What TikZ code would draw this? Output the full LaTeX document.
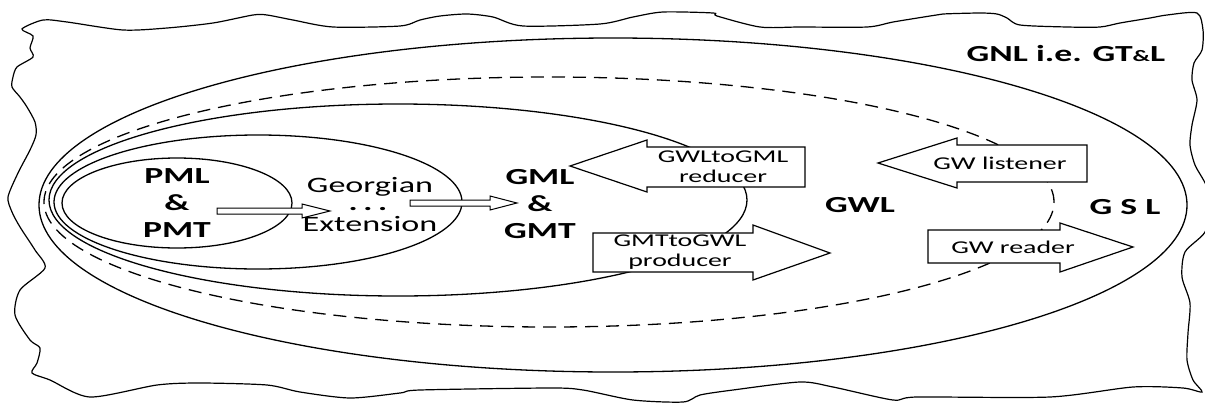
\documentclass[tikz,border=0pt]{standalone}
\usepackage{fontspec}
\usepackage{graphicx}
\setmainfont{Carlito}
\newcommand\sx[1]{\scalebox{1.55}[1]{#1}}
\tikzset{
  outline/.style={line width=1.2pt},
  ring/.style={line width=1.3pt},
  ringdash/.style={line width=1.3pt, dash pattern=on 13pt off 8pt},
  blockarrow/.style={line width=1.2pt, fill=white, line join=miter},
  thinarrow/.style={line width=1pt, fill=white, line join=miter},
  biglabel/.style={font=\bfseries\fontsize{23}{27}\selectfont, align=center, inner sep=0pt},
  boxlabel/.style={font=\fontsize{18}{20}\selectfont, align=center, inner sep=0pt},
  extlabel/.style={font=\fontsize{22}{24}\selectfont, inner sep=0pt}
}
\begin{document}
\begin{tikzpicture}[x=1pt,y=-1pt]
\useasboundingbox (0,0) rectangle (1205,405);
% wavy outer border
\draw[outline] plot[smooth cycle, tension=0.45] coordinates {
 (22,29) (43,20) (67,22) (123,30) (167,28) (213,23) (253,15) (267,15) (293,20) (333,27)
 (400,26) (420,20) (440,16) (467,14) (493,17) (523,26) (600,24) (633,17) (663,12) (713,13)
 (717,16) (760,27) (800,27) (867,27) (893,22) (930,16) (943,14) (980,13) (997,14) (1007,18)
 (1020,25) (1067,27) (1100,27) (1120,23) (1150,18) (1167,15) (1197,13) (1203,30) (1202,50)
 (1194,63) (1192,80) (1197,100) (1192,125) (1190,145) (1195,165) (1206,185) (1210,205)
 (1205,232) (1185,252) (1182,277) (1190,303) (1188,333) (1187,360) (1193,380) (1202,392)
 (1183,388) (1133,387) (1050,397) (917,397) (893,400) (833,387) (800,382) (733,390)
 (700,395) (683,402) (633,400) (583,390) (550,388) (420,390) (400,393) (350,398) (300,392)
 (267,385) (200,383) (157,385) (90,397) (50,380) (32,373) (37,363) (40,348) (30,340)
 (15,315) (20,290) (45,268) (35,250) (20,227) (12,212) (8,197) (18,173) (30,150) (36,135)
 (35,122) (27,107) (20,97) (12,87) (13,77) (17,67) (33,57) (30,48) (33,36)};
% nested ellipses
\draw[ring] (613,205) ellipse [x radius=574pt, y radius=167pt];
\draw[ringdash] (549,202) ellipse [x radius=505pt, y radius=125pt];
\draw[ring] (398,200) ellipse [x radius=349pt, y radius=96pt];
\draw[ring] (258,202) ellipse [x radius=204pt, y radius=67pt];
\draw[ring] (177,203) ellipse [x radius=115pt, y radius=45pt];
% small hollow arrows
\draw[thinarrow] (217,208) -- (302,208) -- (302,204) -- (330,211) -- (302,218) -- (302,214) -- (217,214) -- cycle;
\draw[thinarrow] (410,200) -- (490,200) -- (490,196) -- (517,203) -- (490,210) -- (490,206) -- (410,206) -- cycle;
% block arrows
\draw[blockarrow] (570,166) -- (647,140) -- (647,147) -- (805,147) -- (805,187) -- (647,187) -- (647,192) -- cycle;
\draw[blockarrow] (593,233) -- (753,233) -- (753,225) -- (830,253) -- (753,280) -- (753,272) -- (593,272) -- cycle;
\draw[blockarrow] (878,163) -- (957,138) -- (957,145) -- (1087,145) -- (1087,182) -- (957,182) -- (957,188) -- cycle;
\draw[blockarrow] (928,230) -- (1060,230) -- (1060,223) -- (1133,247) -- (1060,272) -- (1060,263) -- (928,263) -- cycle;
% labels
\node[biglabel] (pml) at (177,203) {\sx{PML}\\\sx{\&}\\\sx{PMT}};
\node[extlabel] (geo) at (370,187) {\sx{Georgian}};
\node[font=\bfseries\fontsize{22}{24}\selectfont, inner sep=0pt] (dots) at (368,209) {\sx{.\,.\,.}};
\node[extlabel] (ext) at (370,224) {\sx{Extension}};
\node[biglabel] (gml) at (540,204) {\sx{GML}\\\sx{\&}\\\sx{GMT}};
\node[biglabel] (gwl) at (860,205) {\sx{GWL}};
\node[biglabel] (gsl) at (1125,207) {\sx{G S L}};
\node[biglabel] (gnl) at (1066,54) {\sx{GNL i.e. GT{\fontsize{16}{16}\selectfont\&}L}};
\node[boxlabel] (red) at (723,167) {\sx{GWLtoGML}\\\sx{reducer}};
\node[boxlabel] (prod) at (680,252) {\sx{GMTtoGWL}\\\sx{producer}};
\node[boxlabel] (lis) at (1000,163) {\sx{GW listener}};
\node[boxlabel] (rea) at (1013,247) {\sx{GW reader}};
\end{tikzpicture}
\end{document}
